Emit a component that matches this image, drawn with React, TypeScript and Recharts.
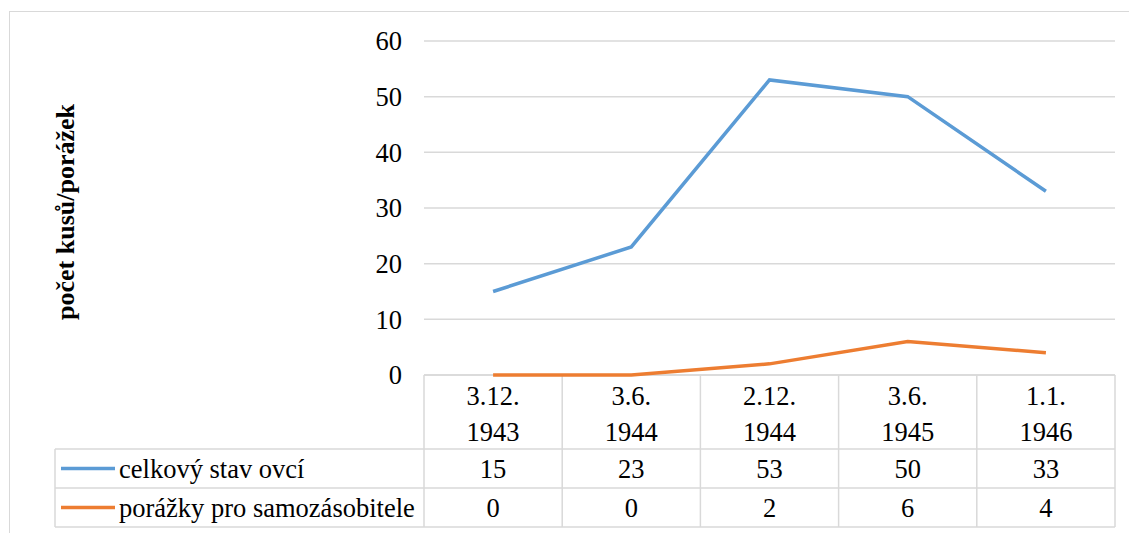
import { LineChart, Line, XAxis, YAxis, CartesianGrid } from 'recharts';

// data
const categories = ['3.12. 1943', '3.6. 1944', '2.12. 1944', '3.6. 1945', '1.1. 1946'];
const stavOvci = [15, 23, 53, 50, 33];
const porazky = [0, 0, 2, 6, 4];
const yTicks = [0, 10, 20, 30, 40, 50, 60];

const series = [
  { key: 'stav', name: 'celkový stav ovcí', values: stavOvci, color: '#5b9bd5' },
  { key: 'porazky', name: 'porážky pro samozásobitele', values: porazky, color: '#ed7d31' },
];

const data = categories.map((c, i) => ({ category: c, stav: stavOvci[i], porazky: porazky[i] }));

// layout
const W = 1129;
const H = 533;
const PLOT_L = 424;
const PLOT_R = 1115;
const PLOT_T = 41;
const PLOT_B = 375;
const COL_W = (PLOT_R - PLOT_L) / categories.length;
const TABLE_L = 55;
const ROW1 = 449;
const ROW2 = 488;
const ROW3 = 527;
const FONT = 'Liberation Serif, Tinos, DejaVu Serif, serif';
const GRID = '#d9d9d9';
const FS = 26.5;

const CategoryTick = (props: any) => {
  const { x, payload } = props;
  const parts = String(payload.value).split(' ');
  return (
    <g>
      {parts.map((p, i) => (
        <text key={i} x={x} y={PLOT_B + 30 + i * 36} textAnchor="middle" fontSize={FS} style={{ fontFamily: FONT }} fill="#000">
          {p}
        </text>
      ))}
    </g>
  );
};

// table under the plot, drawn behind the chart svg
function DataTable() {
  const tops = [ROW1, ROW2];
  const bottoms = [ROW2, ROW3];
  return (
    <svg width={W} height={H} style={{ position: 'absolute', left: 0, top: 0, fontFamily: FONT }}>
      <line x1={PLOT_L} x2={PLOT_R} y1={PLOT_B} y2={PLOT_B} stroke={GRID} strokeWidth={1.5} />
      {[ROW1, ROW2, ROW3].map((y) => (
        <line key={y} x1={TABLE_L} x2={PLOT_R} y1={y} y2={y} stroke={GRID} strokeWidth={1.5} />
      ))}
      <line x1={TABLE_L} x2={TABLE_L} y1={ROW1} y2={ROW3} stroke={GRID} strokeWidth={1.5} />
      {categories.map((_, i) => (
        <line key={i} x1={PLOT_L + i * COL_W} x2={PLOT_L + i * COL_W} y1={PLOT_B} y2={ROW3} stroke={GRID} strokeWidth={1.5} />
      ))}
      <line x1={PLOT_R} x2={PLOT_R} y1={PLOT_B} y2={ROW3} stroke={GRID} strokeWidth={1.5} />
      {series.map((s, r) => {
        const cy = (tops[r] + bottoms[r]) / 2;
        return (
          <g key={s.key}>
            <line x1={61} x2={115} y1={cy} y2={cy} stroke={s.color} strokeWidth={3.5} />
            <text x={119} y={cy} dy="0.34em" fontSize={FS} fill="#000">
              {s.name}
            </text>
            {s.values.map((v, i) => (
              <text key={i} x={PLOT_L + (i + 0.5) * COL_W} y={cy} dy="0.34em" textAnchor="middle" fontSize={FS} fill="#000">
                {v}
              </text>
            ))}
          </g>
        );
      })}
    </svg>
  );
}

export default function App() {
  return (
    <div style={{ position: 'relative', width: W, height: H, overflow: 'hidden', background: '#fff', fontFamily: FONT }}>
      <style>{'body{margin:0;overflow:hidden;}'}</style>
      <div
        style={{
          position: 'absolute',
          left: 9,
          top: 11,
          width: W + 20,
          height: H + 20,
          border: `1.5px solid ${GRID}`,
          boxSizing: 'border-box',
        }}
      />
      <DataTable />
      <div style={{ position: 'absolute', left: 0, top: 0 }}>
        <LineChart width={W} height={H} data={data} margin={{ top: PLOT_T, right: W - PLOT_R, bottom: H - PLOT_B - 80, left: PLOT_L - 60 }}>
          <CartesianGrid vertical={false} stroke={GRID} strokeWidth={1.5} />
          <XAxis
            dataKey="category"
            height={80}
            padding={{ left: COL_W / 2, right: COL_W / 2 }}
            axisLine={false}
            tickLine={false}
            tick={<CategoryTick />}
            interval={0}
          />
          <YAxis
            width={60}
            domain={[0, 60]}
            ticks={yTicks}
            axisLine={false}
            tickLine={false}
            tickSize={6}
            tickMargin={16}
            tick={{ fontSize: FS, fill: '#000', style: { fontFamily: FONT } }}
            label={{
              value: 'počet kusů/porážek',
              content: () => (
                <text
                  x={74}
                  y={212}
                  transform="rotate(-90 74 212)"
                  textAnchor="middle"
                  fontSize={26}
                  fontWeight="bold"
                  style={{ fontFamily: FONT }}
                  fill="#000"
                >
                  počet kusů/porážek
                </text>
              ),
            }}
          />
          {series.map((s) => (
            <Line
              key={s.key}
              type="linear"
              dataKey={s.key}
              name={s.name}
              stroke={s.color}
              strokeWidth={3.5}
              dot={false}
              activeDot={false}
              isAnimationActive={false}
            />
          ))}
        </LineChart>
      </div>
    </div>
  );
}
